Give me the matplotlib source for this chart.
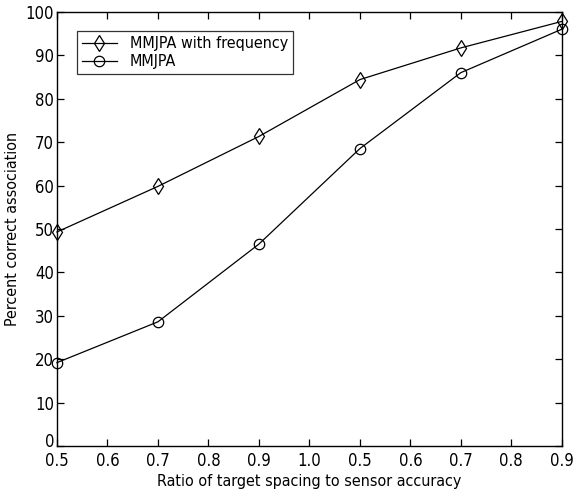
import matplotlib
matplotlib.use('Agg')
import matplotlib.pyplot as plt
from matplotlib.transforms import ScaledTranslation

plt.rcParams['font.family'] = ['Liberation Sans Narrow', 'DejaVu Sans']
plt.rcParams['font.stretch'] = 'condensed'

tick_labels = ['0.5', '0.6', '0.7', '0.8', '0.9', '1.0', '0.5', '0.6', '0.7', '0.8', '0.9']
x_pos = [0, 2, 4, 6, 8, 10]
freq = [49.3, 59.8, 71.3, 84.4, 91.7, 97.8]
plain = [19.2, 28.6, 46.5, 68.5, 86.0, 96.0]

fig = plt.figure(figsize=(5.75, 4.95), dpi=100, facecolor='white')
ax = fig.add_axes([0.099, 0.099, 0.878, 0.877])

ax.plot(x_pos, freq, color='black', lw=0.9, marker='d', ms=8, mfc='none', mec='black',
        mew=0.9, label='MMJPA with frequency', clip_on=False, zorder=3)
ax.plot(x_pos, plain, color='black', lw=0.9, marker='o', ms=7.5, mfc='none', mec='black',
        mew=0.9, label='MMJPA', clip_on=False, zorder=3)

ax.set_xlim(0, 10)
ax.set_ylim(0, 100)
ax.set_xticks(range(len(tick_labels)))
ax.set_xticklabels(tick_labels)
ax.set_yticks(range(0, 101, 10))
ax.tick_params(direction='in', top=True, right=True, length=5, width=0.9, labelsize=12)
ax.tick_params(axis='x', pad=4)
ax.tick_params(axis='y', pad=2)
for s in ax.spines.values():
    s.set_linewidth(1.0)

# lift the "0" label a touch so it clears the first x label
zero = ax.get_yticklabels()[0]
zero.set_transform(zero.get_transform() + ScaledTranslation(0, 4 / 72, fig.dpi_scale_trans))

ax.set_xlabel('Ratio of target spacing to sensor accuracy', fontsize=11.5, labelpad=3)
ax.set_ylabel('Percent correct association', fontsize=11.5, labelpad=4)

leg = ax.legend(loc='upper left', bbox_to_anchor=(0.04, 0.955), fontsize=11.5, frameon=True,
                fancybox=False, edgecolor='black', borderpad=0.3, handlelength=2.2,
                labelspacing=0.2, borderaxespad=0)
leg.get_frame().set_linewidth(0.9)

fig.savefig('out.png', dpi=100, facecolor='white')
